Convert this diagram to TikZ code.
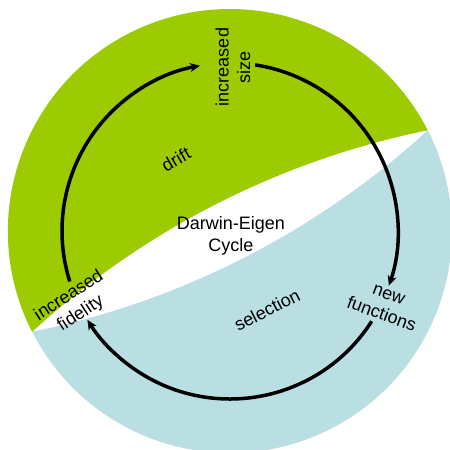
\documentclass[tikz,border=0pt]{standalone}
\usepackage{fontspec}
\setmainfont{Liberation Sans}
\usetikzlibrary{arrows.meta,calc}
\definecolor{leafgreen}{RGB}{155,203,0}
\definecolor{paleblue}{RGB}{186,223,227}
\begin{document}
\begin{tikzpicture}[x=1pt,y=1pt,
  lbl/.style={font=\fontsize{18}{21.5}\selectfont, align=center, inner sep=0pt},
  cyc/.style={line width=3.5pt, -{Stealth[length=10pt,width=9pt,inset=3pt]}}]
\coordinate (C) at (230,219);
% regions
\begin{scope}[shift={(C)}, rotate=27]
  \fill[leafgreen] (-222,0) arc[start angle=105.53, end angle=74.47, radius=829]
    arc[start angle=0, end angle=180, radius=222] -- cycle;
  \fill[paleblue] (-222,0) arc[start angle=180, end angle=360, radius=222]
    arc[start angle=-74.47, end angle=-105.53, radius=829] -- cycle;
\end{scope}
% labels
\node[lbl] (de) at (231,214) {Darwin-Eigen\\Cycle};
\node[lbl, rotate=90] (size) at (233,383) {increased\\size};
\node[lbl, rotate=30] (drift) at (176,291) {drift};
\node[lbl, rotate=27] (sel) at (267,140) {selection};
\node[lbl, rotate=-20] (newf) at (385,145) {new\\functions};
\node[lbl, rotate=33] (fid) at (75,145) {increased\\fidelity};
% cycle arrows
\coordinate (a1) at ($(C)+(197.5:168)$);
\coordinate (a2) at ($(C)+(81.4:168)$);
\coordinate (a3) at ($(C)+(-32.5:168)$);
\draw[cyc] (a1) arc[start angle=197.5, end angle=100.3, radius=168];
\draw[cyc] (a2) arc[start angle=81.4, end angle=-19, radius=168];
\draw[cyc] (a3) arc[start angle=-32.5, end angle=-148.1, radius=168];
\pgfresetboundingbox
\useasboundingbox (0,0) rectangle (450,450);
\end{tikzpicture}
\end{document}
